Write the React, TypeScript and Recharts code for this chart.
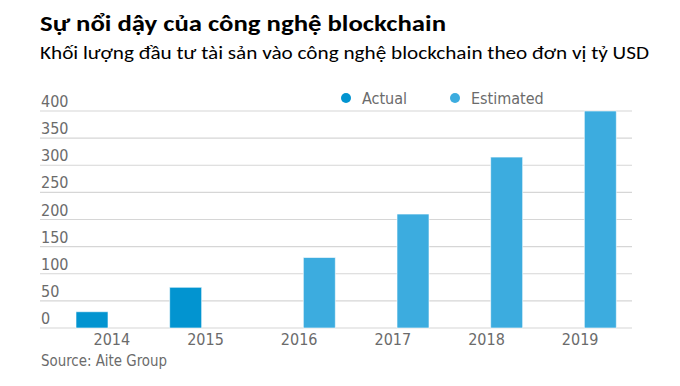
import React from "react";
import { BarChart, Bar, XAxis, YAxis, CartesianGrid } from "recharts";

// data (tỷ USD)
const years = ["2014", "2015", "2016", "2017", "2018", "2019"];
const actual = [30, 75, null, null, null, null];
const estimated = [null, null, 130, 210, 315, 400];
const yTicks = [0, 50, 100, 150, 200, 250, 300, 350, 400];

const ACTUAL_COLOR = "#0294d0";
const ESTIMATED_COLOR = "#3cacdf";
const AXIS_FONT = "'DejaVu Sans Condensed', 'DejaVu Sans', Verdana, sans-serif";
const TITLE_FONT = "Carlito, Calibri, 'Open Sans', sans-serif";
const TEXT_GRAY = "#6b6b6b";

const data = years.map((year, i) => ({
  year,
  Actual: actual[i],
  Estimated: estimated[i],
}));

const legendItems = [
  { label: "Actual", color: ACTUAL_COLOR, cx: 346 },
  { label: "Estimated", color: ESTIMATED_COLOR, cx: 455 },
];

function YTick(props: any) {
  const { y, payload } = props;
  return (
    <text x={41} y={y - 4} fill={TEXT_GRAY} fontSize={16} fontFamily={AXIS_FONT} textAnchor="start">
      {payload.value}
    </text>
  );
}

function XTick(props: any) {
  const { x, y, payload } = props;
  return (
    <text x={x} y={y + 9} fill={TEXT_GRAY} fontSize={16} fontFamily={AXIS_FONT} textAnchor="middle">
      {payload.value}
    </text>
  );
}

export default function App() {
  return (
    <div style={{ position: "absolute", left: 0, top: 0, width: 680, height: 386, background: "#fff" }}>
      <svg width={680} height={386} style={{ position: "absolute", left: 0, top: 0 }}>
        <text
          x={40}
          y={31}
          fontFamily={TITLE_FONT}
          fontWeight={700}
          fontSize={23}
          fill="#000"
          textLength={406}
          lengthAdjust="spacingAndGlyphs"
        >
          Sự nổi dậy của công nghệ blockchain
        </text>
        <text
          x={40}
          y={59}
          fontFamily={TITLE_FONT}
          fontSize={19}
          fill="#000"
          textLength={609}
          lengthAdjust="spacingAndGlyphs"
        >
          Khối lượng đầu tư tài sản vào công nghệ blockchain theo đơn vị tỷ USD
        </text>
        {legendItems.map((it) => (
          <g key={it.label}>
            <circle cx={it.cx} cy={98} r={5} fill={it.color} />
            <text x={it.cx + 16} y={104} fill={TEXT_GRAY} fontSize={16} fontFamily={AXIS_FONT}>
              {it.label}
            </text>
          </g>
        ))}
        <text
          x={41}
          y={366}
          fontFamily={AXIS_FONT}
          fontSize={16}
          fill={TEXT_GRAY}
          textLength={126}
          lengthAdjust="spacingAndGlyphs"
        >
          Source: Aite Group
        </text>
      </svg>
      <div style={{ position: "absolute", left: 0, top: 0 }}>
        <BarChart
          width={680}
          height={386}
          data={data}
          margin={{ top: 111, right: 48, left: 10, bottom: 28 }}
          barSize={32}
          barGap={8}
        >
          <CartesianGrid vertical={false} stroke="#d6d6d6" strokeWidth={1.2} />
          <XAxis
            dataKey="year"
            height={30}
            axisLine={false}
            tickLine={false}
            padding={{ left: 25, right: 5 }}
            tick={<XTick />}
            interval={0}
          />
          <YAxis
            width={30}
            domain={[0, 400]}
            ticks={yTicks}
            axisLine={false}
            tickLine={false}
            tick={<YTick />}
            interval={0}
          />
          <Bar dataKey="Actual" fill={ACTUAL_COLOR} stroke="#ffffff" strokeOpacity={0.6} isAnimationActive={false} />
          <Bar dataKey="Estimated" fill={ESTIMATED_COLOR} stroke="#ffffff" strokeOpacity={0.6} isAnimationActive={false} />
        </BarChart>
      </div>
    </div>
  );
}
